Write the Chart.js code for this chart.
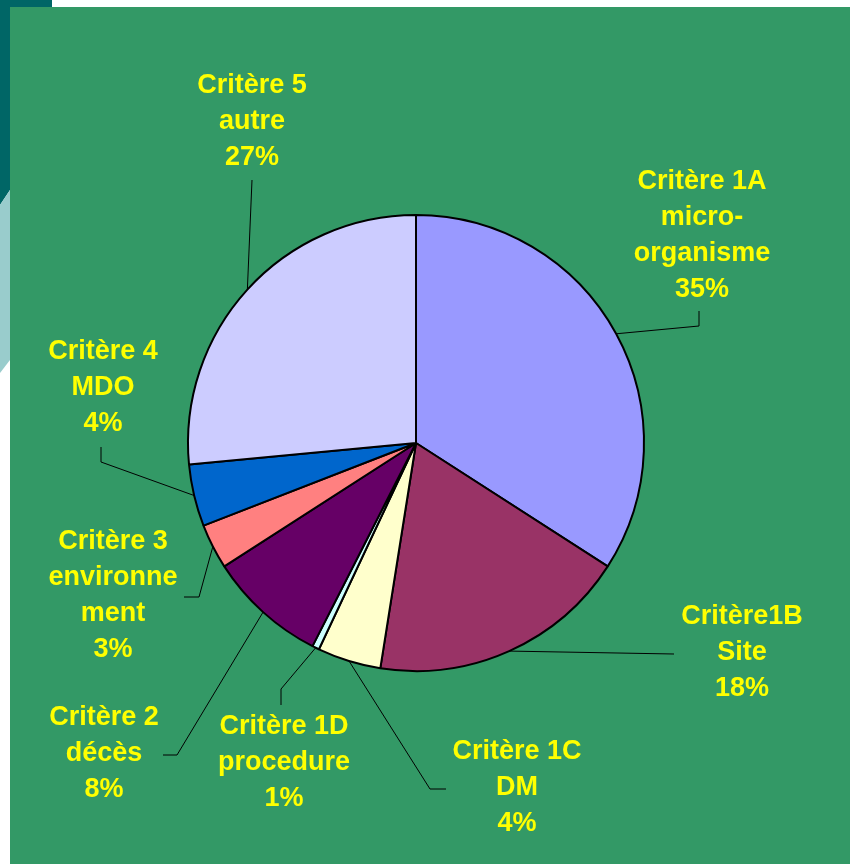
<!DOCTYPE html>
<html>
<head>
<meta charset="utf-8">
<script src="https://cdn.jsdelivr.net/npm/chart.js@4"></script>
<style>
    html, body { margin: 0; padding: 0; background: #ffffff; }
    #stage { position: relative; width: 850px; height: 864px; overflow: hidden; }
    .deco { position: absolute; }
    #darkTop { left: 0; top: 0; width: 52px; height: 8px; background: #006666; }
    #darkSide { left: 0; top: 0; width: 10px; height: 210px; background: #006666; clip-path: polygon(0 0, 100% 0, 100% 190px, 0 205px); }
    #lightSide { left: 0; top: 190px; width: 10px; height: 190px; background: #99cccc; clip-path: polygon(0 15px, 100% 0, 100% 170px, 0 183px); }
    #panel { left: 10px; top: 7px; width: 840px; height: 857px; background: #339966; }
    #pie { position: absolute; left: 0; top: 0; }
</style>
</head>
<body>
<div id="stage">
    <div class="deco" id="darkTop"></div>
    <div class="deco" id="darkSide"></div>
    <div class="deco" id="lightSide"></div>
    <div class="deco" id="panel"></div>
    <canvas id="pie" width="850" height="864"></canvas>
</div>
<script>
// Slices, clockwise from 12 o'clock (shares)
const categories = [
    ['Critère 1A', 'micro-', 'organisme'],
    ['Critère1B', 'Site'],
    ['Critère 1C', 'DM'],
    ['Critère 1D', 'procedure'],
    ['Critère 2', 'décès'],
    ['Critère 3', 'environne', 'ment'],
    ['Critère 4', 'MDO'],
    ['Critère 5', 'autre']
];
const shares = [34.1, 18.4, 4.5, 0.5, 8.4, 3.2, 4.4, 26.5];
const percentLabels = ['35%', '18%', '4%', '1%', '8%', '3%', '4%', '27%'];
const sliceColors = ['#9999ff', '#993366', '#ffffcc', '#ccffff', '#660066', '#ff8080', '#0066cc', '#ccccff'];

// Where each label sits (center x, first line y) and the bends of its leader line
const labelPos = [
    [702, 182], [742, 617], [517, 752], [284, 727],
    [104, 718], [113, 542], [103, 352], [252, 86]
];
const leaderBends = [
    [[699, 326], [699, 311]],
    [[674, 654]],
    [[430, 789], [446, 789]],
    [[281, 689], [281, 705]],
    [[177, 755], [163, 755]],
    [[199, 597], [184, 597]],
    [[101, 462], [101, 447]],
    [[252, 180]]
];
const lineHeight = 36;

const labelPlugin = {
    id: 'pieLabels',
    afterDraw(chart) {
        const ctx = chart.ctx;
        const arcs = chart.getDatasetMeta(0).data;
        ctx.save();
        ctx.strokeStyle = '#000000';
        ctx.lineWidth = 1;
        arcs.forEach((arc, i) => {
            const p = arc.getProps(['x', 'y', 'startAngle', 'endAngle', 'outerRadius'], true);
            const mid = (p.startAngle + p.endAngle) / 2;
            ctx.beginPath();
            ctx.moveTo(p.x + Math.cos(mid) * p.outerRadius, p.y + Math.sin(mid) * p.outerRadius);
            leaderBends[i].forEach(pt => ctx.lineTo(pt[0], pt[1]));
            ctx.stroke();
        });

        ctx.fillStyle = '#ffff00';
        ctx.font = 'bold 27px "Liberation Sans", Arial, sans-serif';
        ctx.textAlign = 'center';
        ctx.textBaseline = 'middle';
        categories.forEach((lines, i) => {
            const all = lines.concat([percentLabels[i]]);
            all.forEach((txt, k) => {
                ctx.fillText(txt, labelPos[i][0], labelPos[i][1] + k * lineHeight);
            });
        });
        ctx.restore();
    }
};

new Chart(document.getElementById('pie').getContext('2d'), {
    type: 'pie',
    data: {
        labels: categories.map(c => c.join(' ')),
        datasets: [{
            data: shares,
            backgroundColor: sliceColors,
            borderColor: '#000000',
            borderWidth: 2
        }]
    },
    options: {
        responsive: false,
        animation: false,
        layout: {
            padding: { left: 187, right: 205, top: 214, bottom: 192 }
        },
        plugins: {
            legend: { display: false },
            tooltip: { enabled: false }
        }
    },
    plugins: [labelPlugin]
});
</script>
</body>
</html>
